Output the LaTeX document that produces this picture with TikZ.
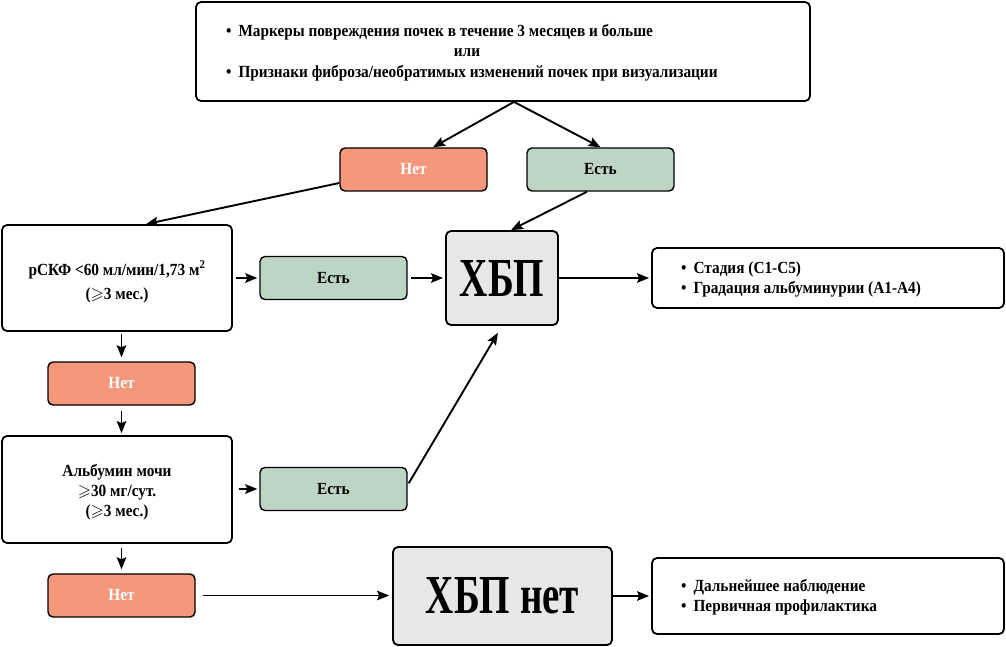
\documentclass[tikz,border=0pt]{standalone}
\usepackage{fontspec}
\usepackage{amssymb}
\setmainfont{Liberation Serif}[FakeStretch=0.9]
\newfontfamily\bigfont{Liberation Serif}[FakeStretch=0.71]
\usetikzlibrary{arrows.meta}
\definecolor{salmon}{RGB}{244,151,122}
\definecolor{sage}{RGB}{191,213,196}
\definecolor{lgray}{RGB}{230,231,233}
\tikzset{
  box/.style={draw=black, line width=1.8pt, rounded corners=5pt, inner sep=0pt, font=\bfseries\fontsize{17}{23}\selectfont},
  nobox/.style={box, fill=salmon, text=white, minimum width=147pt, minimum height=43pt, line width=1.4pt},
  yesbox/.style={box, fill=sage, text=black, minimum width=147pt, minimum height=43pt, line width=1.4pt},
  bigbox/.style={box, fill=lgray, font=\bigfont\bfseries\fontsize{55}{55}\selectfont},
  txt/.style={anchor=west, inner sep=0pt, font=\bfseries\fontsize{17}{18}\selectfont},
  arr/.style={line width=1.9pt, -{Stealth[length=12pt,width=9.5pt,inset=2pt]}}
}
\begin{document}
\begin{tikzpicture}[x=1pt,y=-1pt]
\useasboundingbox (0,0) rectangle (1006,647);
% boxes
\node[box, minimum width=614pt, minimum height=99pt] (top) at (503,51.5) {};
\node[txt] (t1) at (226,32) {\textbullet\hspace{7pt}Маркеры повреждения почек в течение 3 месяцев и больше};
\node[txt, anchor=center] (t2) at (467,53) {или};
\node[txt] (t3) at (226,73) {\textbullet\hspace{7pt}Признаки фиброза/необратимых изменений почек при визуализации};

\node[nobox] (no1) at (413.5,169.5) {Нет};
\node[yesbox] (yes1) at (600.5,169.5) {Есть};

\node[box, minimum width=230pt, minimum height=106pt] (gfr) at (117,278) {};
\node[inner sep=0pt, align=center, font=\bfseries\fontsize{17}{24}\selectfont] (gfrtxt) at (117,282)
  {рСКФ <60 мл/мин/1,73 м\textsuperscript{2}\\($\geqslant$3 мес.)};
\node[yesbox] (yes2) at (333.5,278) {Есть};
\node[bigbox, minimum width=112pt, minimum height=94pt] (ckd) at (502,278) {ХБП};
\node[box, minimum width=352pt, minimum height=60pt] (stage) at (828,278) {};
\node[txt] (s1) at (681,269) {\textbullet\hspace{7pt}Стадия (С1-С5)};
\node[txt] (s2) at (681,289) {\textbullet\hspace{7pt}Градация альбуминурии (А1-А4)};

\node[nobox] (no2) at (121.5,383.5) {Нет};
\node[box, minimum width=230pt, minimum height=107pt] (alb) at (117,489.5) {};
\node[inner sep=0pt, align=center, font=\bfseries\fontsize{17}{20}\selectfont] (albtxt) at (117,492)
  {Альбумин мочи\\$\geqslant$30 мг/сут.\\($\geqslant$3 мес.)};
\node[yesbox] (yes3) at (333.5,489) {Есть};

\node[nobox] (no3) at (121.5,595.5) {Нет};
\node[bigbox, minimum width=219pt, minimum height=98pt] (nockd) at (502.5,596) {ХБП нет};
\node[box, minimum width=352pt, minimum height=76pt] (follow) at (828,596) {};
\node[txt] (f1) at (681,587) {\textbullet\hspace{7pt}Дальнейшее наблюдение};
\node[txt] (f2) at (681,607) {\textbullet\hspace{7pt}Первичная профилактика};

% arrows
\draw[arr] (top.south -| 514,0) -- (no1.north -| 433,0);
\draw[arr] (top.south -| 514,0) -- (yes1.north);
\draw[arr] (no1.west |- 0,183) -- (gfr.north -| 146,0);
\draw[arr] (yes1.south -| 587,0) -- (ckd.north -| 511,0);
\draw[arr, shorten <=3pt, shorten >=2pt] (gfr.east) -- (yes2.west);
\draw[arr, shorten <=3pt, shorten >=2pt] (yes2.east) -- (ckd.west);
\draw[arr, shorten >=2pt] (ckd.east) -- (stage.west);
\draw[arr, shorten <=2pt, shorten >=4pt] (gfr.south -| no2.north) -- (no2.north);
\draw[arr, shorten <=5pt, shorten >=2pt] (no2.south) -- (alb.north -| no2.south);
\draw[arr, shorten <=6pt, shorten >=2pt] (alb.east |- yes3.west) -- (yes3.west);
\draw[arr, shorten <=2pt, shorten >=8pt] (yes3.east |- 0,485) -- (ckd.south);
\draw[arr, shorten <=4pt, shorten >=4pt] (alb.south -| no3.north) -- (no3.north);
\draw[arr, shorten <=7pt, shorten >=3pt] (no3.east) -- (nockd.west |- no3.east);
\draw[arr, shorten >=2pt] (nockd.east) -- (follow.west |- nockd.east);
\end{tikzpicture}
\end{document}
